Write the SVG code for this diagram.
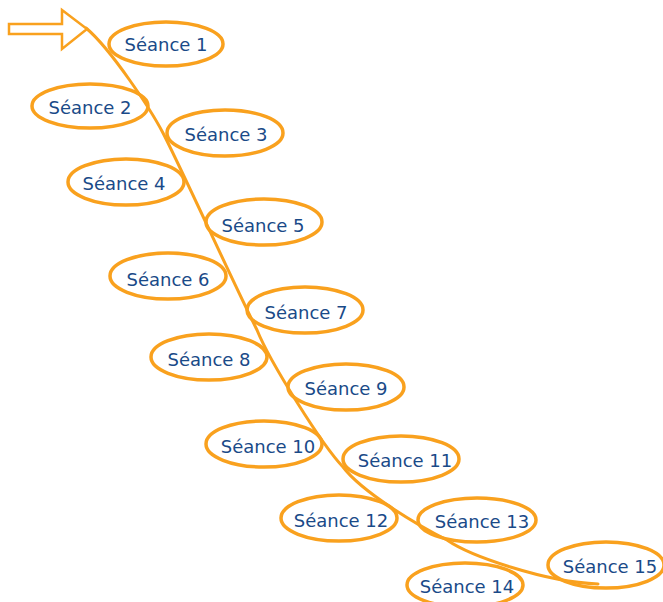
<svg xmlns="http://www.w3.org/2000/svg" width="663" height="602" viewBox="0 0 663 602">
<style>
.n ellipse{fill:none;stroke:#F9A11E;stroke-width:3.5}
.n text{font-family:"DejaVu Sans","Verdana",sans-serif;font-size:18px;fill:#1A4A88;text-anchor:middle}
.c{fill:none;stroke:#F9A11E;stroke-width:3;stroke-linecap:round;stroke-linejoin:round}
.a{fill:#fff;stroke:#F9A11E;stroke-width:2.5;stroke-linejoin:miter}
</style>
<rect width="663" height="602" fill="#fff"/>
<g id="connectors">
<path class="c" d="M86,28 C111,49 151,110 163,133 C183,172 232,280 257,330 C270,362 322,445 343,467 C362,492 417,525 447,540 C470,556 545,582 598,584"/>
<polygon id="start-arrow" class="a" points="9,24 62,24 62,10 87,29 62,49 62,34 9,34"/>
</g>
<g id="s1" class="n"><ellipse cx="166" cy="44" rx="57" ry="22"/><text x="166" y="51">Séance 1</text></g>
<g id="s2" class="n"><ellipse cx="90" cy="106" rx="58" ry="22"/><text x="90" y="114">Séance 2</text></g>
<g id="s3" class="n"><ellipse cx="225" cy="133" rx="58" ry="23"/><text x="226" y="141">Séance 3</text></g>
<g id="s4" class="n"><ellipse cx="126" cy="182" rx="58" ry="23"/><text x="124" y="190">Séance 4</text></g>
<g id="s5" class="n"><ellipse cx="264" cy="222" rx="58" ry="23"/><text x="263" y="232">Séance 5</text></g>
<g id="s6" class="n"><ellipse cx="168" cy="276" rx="58" ry="23"/><text x="168" y="286">Séance 6</text></g>
<g id="s7" class="n"><ellipse cx="305" cy="310" rx="58" ry="23"/><text x="306" y="319">Séance 7</text></g>
<g id="s8" class="n"><ellipse cx="209" cy="357" rx="58" ry="23"/><text x="209" y="366">Séance 8</text></g>
<g id="s9" class="n"><ellipse cx="346" cy="387" rx="58" ry="23"/><text x="346" y="395">Séance 9</text></g>
<g id="s10" class="n"><ellipse cx="264" cy="444" rx="58" ry="23"/><text x="268" y="453">Séance 10</text></g>
<g id="s11" class="n"><ellipse cx="401" cy="459" rx="58" ry="23"/><text x="405" y="467">Séance 11</text></g>
<g id="s12" class="n"><ellipse cx="339" cy="518" rx="58" ry="23"/><text x="341" y="527">Séance 12</text></g>
<g id="s13" class="n"><ellipse cx="477" cy="520" rx="59" ry="22"/><text x="482" y="528">Séance 13</text></g>
<g id="s14" class="n"><ellipse cx="465" cy="585" rx="58" ry="22"/><text x="467" y="593">Séance 14</text></g>
<g id="s15" class="n"><ellipse cx="606" cy="565" rx="58" ry="23"/><text x="610" y="573">Séance 15</text></g>
</svg>
